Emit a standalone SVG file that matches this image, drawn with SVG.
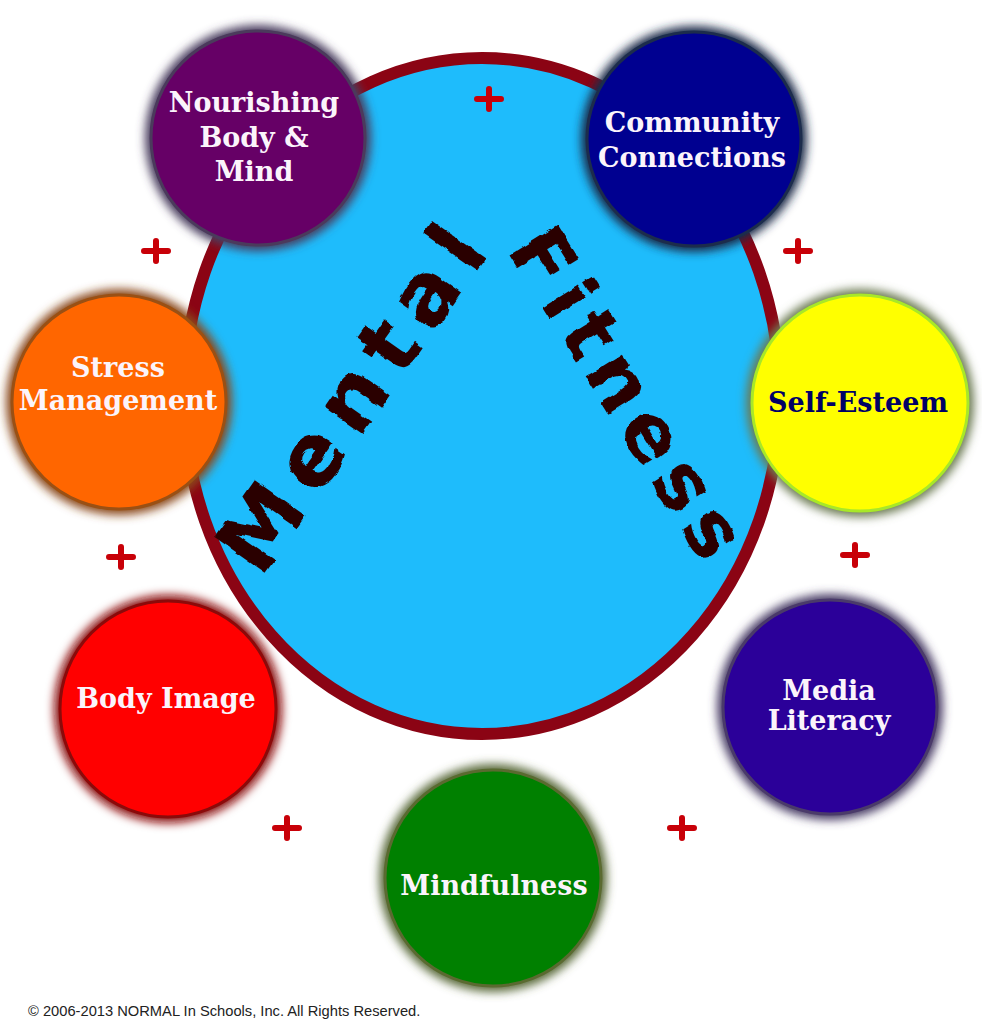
<svg xmlns="http://www.w3.org/2000/svg" width="982" height="1024" viewBox="0 0 982 1024">
<defs>
<filter id="halo" x="-30%" y="-30%" width="160%" height="160%">
<feGaussianBlur stdDeviation="5"/>
</filter>
<filter id="rough" x="-10%" y="-10%" width="120%" height="120%">
<feTurbulence type="fractalNoise" baseFrequency="0.09" numOctaves="2" seed="3" result="n"/>
<feDisplacementMap in="SourceGraphic" in2="n" scale="5" xChannelSelector="R" yChannelSelector="G"/>
</filter>
<style>
.lbl{font-family:"DejaVu Serif","Liberation Serif",serif;font-weight:bold;font-size:27px;fill:#fbf4fb;text-anchor:middle}
.hand{font-family:"DejaVu Sans","Liberation Sans",sans-serif;font-weight:bold;fill:#2b0000;text-anchor:middle}
.plus{stroke:#c80008;stroke-width:6;stroke-linecap:round;fill:none}
.ring{stroke-width:3}
</style>
</defs>
<rect width="982" height="1024" fill="#ffffff"/>

<g id="hub">
<ellipse cx="482" cy="396" rx="298" ry="338" fill="#1ebcfc" stroke="#8b0414" stroke-width="12"/>
<g filter="url(#rough)">
<text class="hand" font-size="86" letter-spacing="13" transform="translate(357,395) rotate(-55)" y="27">Mental</text>
<text class="hand" font-size="78" letter-spacing="9" transform="translate(628,398) rotate(58)" y="25">Fitness</text>
</g>
</g>

<g id="plus-signs">
<path class="plus" d="M477 99h24M489 89v20"/>
<path class="plus" d="M144 251h24M156 241v20"/>
<path class="plus" d="M786 251h24M798 241v20"/>
<path class="plus" d="M109 557h24M121 547v20"/>
<path class="plus" d="M843 555h24M855 545v20"/>
<path class="plus" d="M275 828h24M287 818v20"/>
<path class="plus" d="M670 828h24M682 818v20"/>
</g>

<g id="node-nourishing">
<circle cx="258" cy="138" r="113" fill="#4a3d5e" filter="url(#halo)"/>
<circle class="ring" cx="258" cy="138" r="107" fill="#660066" stroke="#4b3a5c"/>
<text class="lbl" x="254" y="112">Nourishing</text>
<text class="lbl" x="254" y="147">Body &amp;</text>
<text class="lbl" x="254" y="181">Mind</text>
</g>

<g id="node-community">
<circle cx="694" cy="139" r="113" fill="#1c2a48" filter="url(#halo)"/>
<circle class="ring" cx="694" cy="139" r="107" fill="#000090" stroke="#1c2c4c"/>
<text class="lbl" x="692" y="132">Community</text>
<text class="lbl" x="692" y="167">Connections</text>
</g>

<g id="node-stress">
<circle cx="119" cy="402" r="113" fill="#8b4a1a" filter="url(#halo)"/>
<circle class="ring" cx="119" cy="402" r="107" fill="#ff6600" stroke="#9a5014"/>
<text class="lbl" x="118" y="377" font-size="26">Stress</text>
<text class="lbl" x="118" y="410" font-size="26">Management</text>
</g>

<g id="node-self-esteem">
<circle cx="860" cy="403" r="114" fill="#6c7a52" filter="url(#halo)"/>
<circle class="ring" cx="860" cy="403" r="108" fill="#ffff00" stroke="#a8e828"/>
<text class="lbl" x="858" y="412" font-size="26" style="fill:#000066">Self-Esteem</text>
</g>

<g id="node-body-image">
<circle cx="168" cy="709" r="114" fill="#8b0a0a" filter="url(#halo)"/>
<circle class="ring" cx="168" cy="709" r="108" fill="#ff0000" stroke="#8b0a0a"/>
<text class="lbl" x="166" y="708" font-size="26">Body Image</text>
</g>

<g id="node-media-literacy">
<circle cx="830" cy="707" r="113" fill="#4a3d66" filter="url(#halo)"/>
<circle class="ring" cx="830" cy="707" r="107" fill="#2b0099" stroke="#4a3a6a"/>
<text class="lbl" x="829" y="700" font-size="23">Media</text>
<text class="lbl" x="829" y="730" font-size="23">Literacy</text>
</g>

<g id="node-mindfulness">
<circle cx="493" cy="878" r="114" fill="#5a6a3a" filter="url(#halo)"/>
<circle class="ring" cx="493" cy="878" r="108" fill="#008000" stroke="#5a6a30"/>
<text class="lbl" x="494" y="895">Mindfulness</text>
</g>

<text x="28" y="1016" font-family="Liberation Sans, Arial, sans-serif" font-size="14.7" fill="#222222">© 2006-2013 NORMAL In Schools, Inc. All Rights Reserved.</text>
</svg>
